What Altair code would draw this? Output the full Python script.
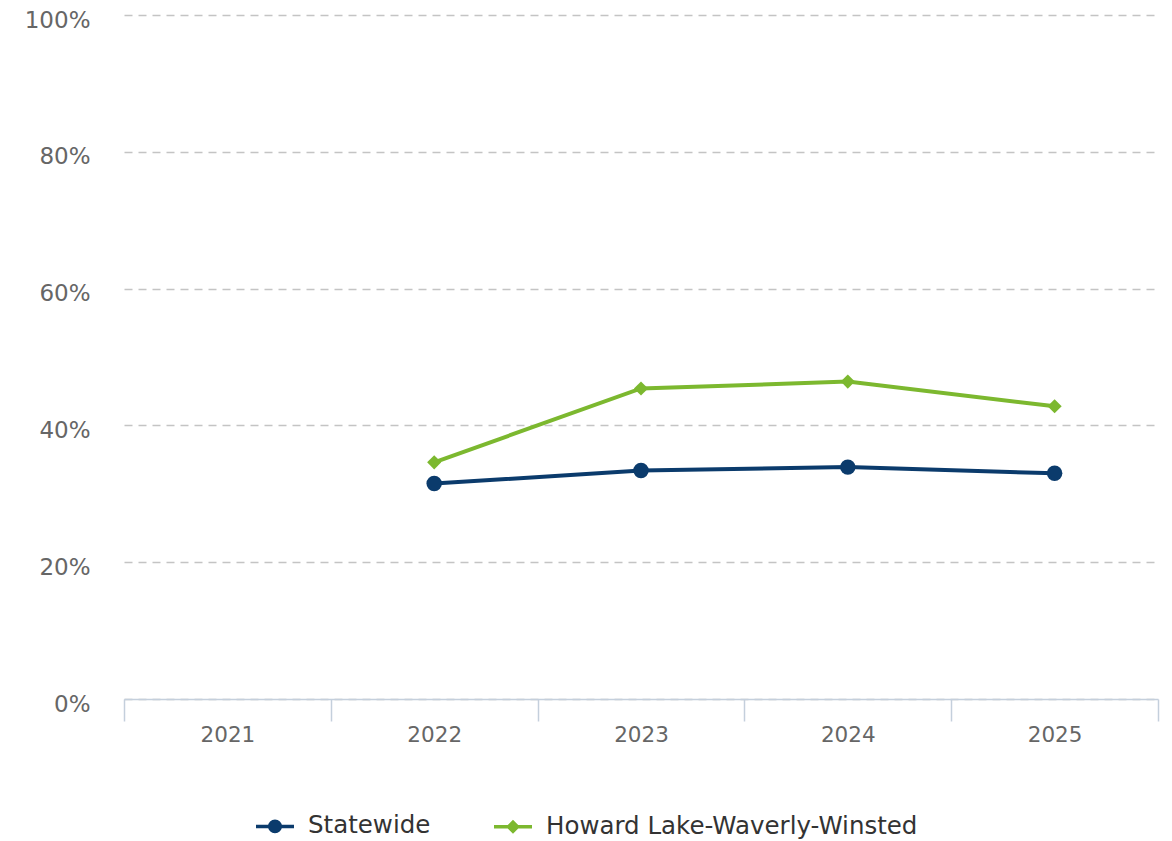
import altair as alt
import pandas as pd

years = ["2021", "2022", "2023", "2024", "2025"]
series_names = ["Statewide", "Howard Lake-Waverly-Winsted"]
statewide = [None, 0.315, 0.334, 0.339, 0.330]
howard = [None, 0.346, 0.454, 0.464, 0.428]
colors = ["#0b3b6c", "#7cb82f"]

rows = []
for name, vals in zip(series_names, [statewide, howard]):
    for y, v in zip(years, vals):
        rows.append({"year": y, "series": name, "value": v})
df = pd.DataFrame(rows)
pts = df.dropna()

xenc = alt.X("year:N", sort=years,
             scale=alt.Scale(domain=years, paddingInner=0, paddingOuter=0),
             axis=alt.Axis(title=None, labelAngle=0, tickBand="extent", tickSize=22,
                           tickColor="#c4cfdc", domainColor="#c4cfdc", domainWidth=1.5,
                           tickWidth=1.5, labelFontSize=21.5, labelColor="#666666",
                           labelPadding=3, grid=False, labelFont="DejaVu Sans"))
yenc = alt.Y("value:Q", scale=alt.Scale(domain=[0, 1], nice=False),
             axis=alt.Axis(title=None, format=".0%", values=[0, 0.2, 0.4, 0.6, 0.8, 1.0],
                           domain=False, ticks=False, labelFontSize=23, labelOffset=5,
                           labelColor="#666666", labelPadding=34, grid=True,
                           gridColor="#c4c4c4", gridDash=[8, 6], gridWidth=1.5,
                           labelFont="DejaVu Sans"))
cscale = alt.Scale(domain=series_names, range=colors)
cenc = alt.Color("series:N", scale=cscale, title=None)

# legend symbols: a line segment with a marker drawn by nested strokes
leg_shapes = [
    "M-1,0H1M-0.276,0A0.276,0.276 0 1,0 0.276,0A0.276,0.276 0 1,0 -0.276,0Z"
    "M-0.092,0A0.092,0.092 0 1,0 0.092,0A0.092,0.092 0 1,0 -0.092,0Z",
    "M-1,0H1M0,-0.237L0.237,0L0,0.237L-0.237,0Z"
    "M0,-0.079L0.079,0L0,0.079L-0.079,0Z",
]
legend_layer = alt.Chart(pts).transform_filter("datum.value < 0").mark_point(
    filled=False, opacity=1, size=1444, strokeWidth=3.5
).encode(
    x=xenc, y=yenc,
    color=cenc,
    shape=alt.Shape("series:N", scale=alt.Scale(domain=series_names, range=leg_shapes), title=None),
)

lines = alt.Chart(pts).mark_line(strokeWidth=4).encode(
    x=xenc, y=yenc, color=cenc, detail="series:N",
)
points_s = alt.Chart(pts).transform_filter(alt.datum.series == series_names[0]).mark_point(
    filled=True, opacity=1, shape="circle", size=240
).encode(x=xenc, y=yenc, color=cenc)
points_h = alt.Chart(pts).transform_filter(alt.datum.series == series_names[1]).mark_point(
    filled=True, opacity=1, shape="diamond", size=200
).encode(x=xenc, y=yenc, color=cenc)

chart = alt.layer(legend_layer, lines, points_s, points_h).properties(
    width=1034, height=684,
    autosize=alt.AutoSizeParams(type="none"),
    padding={"left": 116, "top": 7, "right": 6, "bottom": 140},
).configure_view(stroke=None).configure_legend(
    orient="none", direction="horizontal", legendX=130, legendY=790,
    symbolSize=1444, symbolStrokeWidth=3.5, labelFontSize=24.5,
    labelColor="#333333", labelFont="DejaVu Sans", columnPadding=56,
    labelOffset=12, symbolOpacity=1, labelLimit=600,
)

chart.save("out.html", embed_options={"renderer": "svg", "actions": False})
